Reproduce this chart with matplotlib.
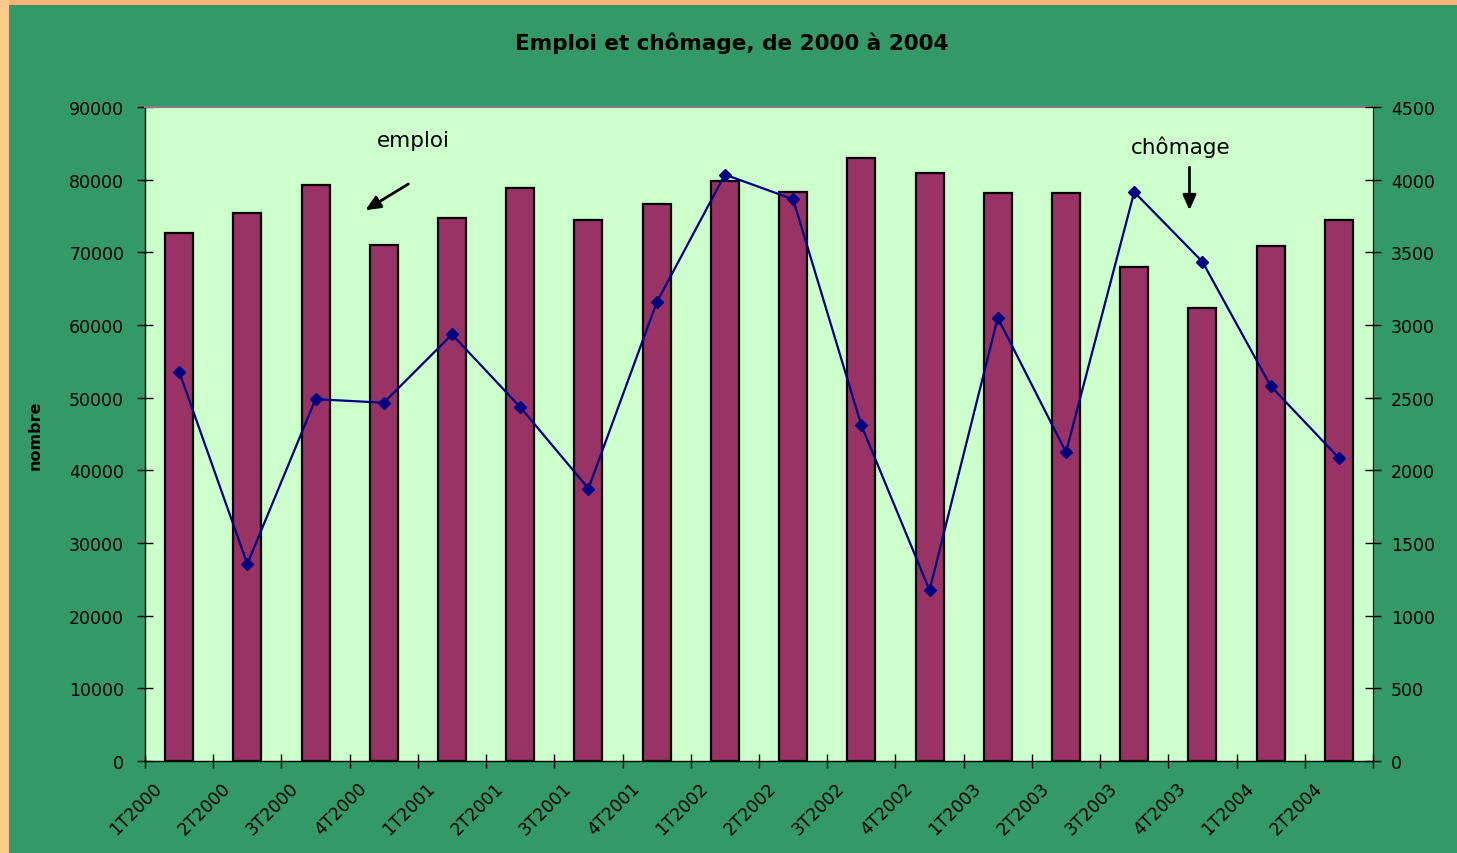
import matplotlib
matplotlib.use("Agg")
import matplotlib.pyplot as plt
from matplotlib.patches import Rectangle
import numpy as np

categories = ["1T2000", "2T2000", "3T2000", "4T2000",
              "1T2001", "2T2001", "3T2001", "4T2001",
              "1T2002", "2T2002", "3T2002", "4T2002",
              "1T2003", "2T2003", "3T2003", "4T2003",
              "1T2004", "2T2004"]
emploi = [72700, 75400, 79300, 71000, 74700, 78900, 74400, 76700, 79800,
          78300, 83000, 80900, 78100, 78100, 68000, 62400, 70900, 74500]
chomage = [2680, 1355, 2490, 2465, 2935, 2435, 1875, 3155, 4035,
           3865, 2310, 1175, 3050, 2125, 3915, 3435, 2580, 2085]
left_ticks = [0, 10000, 20000, 30000, 40000, 50000, 60000, 70000, 80000, 90000]
right_ticks = [0, 500, 1000, 1500, 2000, 2500, 3000, 3500, 4000, 4500]

plt.rcParams['font.family'] = ['DejaVu Sans']

W, H = 1457, 854
fig = plt.figure(figsize=(W / 100, H / 100), dpi=100)
fig.patch.set_facecolor('#FFB27A')
# left peach strip and green background
fig.patches.append(Rectangle((0, 0), 9 / W, 1, transform=fig.transFigure,
                             facecolor='#FFC98C', edgecolor='none', zorder=-2))
fig.patches.append(Rectangle((9 / W, 0), 1, 1 - 6 / H, transform=fig.transFigure,
                             facecolor='#339966', edgecolor='none', zorder=-1))

left, right, top, bottom = 145 / W, 1373 / W, 1 - 108 / H, 1 - 762 / H
ax = fig.add_axes([left, bottom, right - left, top - bottom])
ax.set_facecolor('#CCFFCC')

x = np.arange(len(categories))
ax.bar(x, emploi, width=0.41, color='#993366', edgecolor='black',
       linewidth=1.6, zorder=2)
ax.set_xlim(-0.5, len(categories) - 0.5)
ax.set_ylim(0, 90000)
ax.set_yticks(left_ticks)
ax.set_yticklabels([str(v) for v in left_ticks], fontsize=12.5)
ax.tick_params(axis='y', direction='inout', length=12, width=1, pad=9,
               colors='black')

# x ticks at category boundaries, labels offset
ax.set_xticks(np.arange(len(categories) + 1) - 0.5, minor=True)
ax.set_xticks(x - 0.5 + 0.12)
ax.set_xticklabels(categories, fontsize=12.5)
ax.tick_params(axis='x', which='major', length=0, pad=13)
ax.tick_params(axis='x', which='minor', direction='inout', length=10, width=1)
for lab in ax.get_xticklabels():
    lab.set_rotation(45)
    lab.set_ha('right')
    lab.set_va('top')
    lab.set_rotation_mode('anchor')

for s in ['left', 'bottom']:
    ax.spines[s].set_color('black')
    ax.spines[s].set_linewidth(1)
ax.spines['top'].set_color('#808080')
ax.spines['top'].set_linewidth(1.5)
ax.spines['right'].set_color('black')

ax.set_ylabel('nombre', fontsize=11.5, fontweight='bold')
ax.yaxis.set_label_coords(-0.083, 0.5)

ax2 = ax.twinx()
ax2.plot(x, chomage, color='#000080', linewidth=1.6, marker='D',
         markersize=6.5, markerfacecolor='#000080', markeredgecolor='#000080',
         zorder=3)
ax2.set_ylim(0, 4500)
ax2.set_yticks(right_ticks)
ax2.set_yticklabels([str(v) for v in right_ticks], fontsize=12.5)
ax2.tick_params(axis='y', direction='inout', length=12, width=1, pad=7)
ax2.spines['right'].set_color('black')
ax2.spines['top'].set_visible(False)
ax2.spines['left'].set_visible(False)
ax2.spines['bottom'].set_visible(False)

# annotations
arrow_style = '-|>,head_length=0.9,head_width=0.4'
ax.text(3.43, 85450, 'emploi', fontsize=15.5, ha='center', va='center', zorder=5)
ax.annotate('', xy=(2.73, 75800), xytext=(3.36, 79400),
            arrowprops=dict(arrowstyle=arrow_style, color='black', lw=2,
                            shrinkA=0, shrinkB=0), zorder=5)
ax.text(14.68, 84600, 'chômage', fontsize=15.5, ha='center', va='center', zorder=5)
ax.annotate('', xy=(14.81, 75800), xytext=(14.81, 81700),
            arrowprops=dict(arrowstyle=arrow_style, color='black', lw=2,
                            shrinkA=0, shrinkB=0), zorder=5)

fig.text(732 / W, 1 - 43 / H, 'Emploi et chômage, de 2000 à 2004',
         fontsize=15.5, fontweight='bold', ha='center', va='center')

fig.savefig('out.png', dpi=100, facecolor=fig.get_facecolor())
